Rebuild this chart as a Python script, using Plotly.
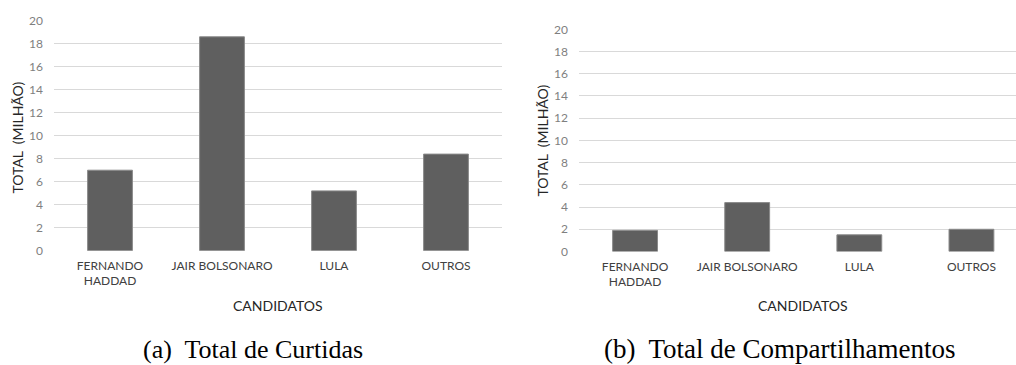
import plotly.graph_objects as go

# Candidate names and totals (millions)
candidatos = ["FERNANDO<br>HADDAD", "JAIR BOLSONARO", "LULA", "OUTROS"]
curtidas = [7.0, 18.6, 5.2, 8.4]
compartilhamentos = [1.9, 4.4, 1.5, 2.0]
y_ticks = [0, 2, 4, 6, 8, 10, 12, 14, 16, 18, 20]

W, H = 1016, 365
SANS = "Lato, Calibri, Arial, sans-serif"
SERIF = "Liberation Serif, Times New Roman, serif"
BAR = "#5f5f5f"
GRID = "#d9d9d9"
TICK_COLOR = "#7f7f7f"
LABEL_COLOR = "#404040"
TITLE_COLOR = "#262626"

fig = go.Figure()

fig.add_trace(go.Bar(x=[0, 1, 2, 3], y=curtidas, width=0.4,
                     marker=dict(color=BAR, line=dict(color="#8a8a8a", width=1)),
                     xaxis="x", yaxis="y", showlegend=False, hoverinfo="skip"))
fig.add_trace(go.Bar(x=[0, 1, 2, 3], y=compartilhamentos, width=0.4,
                     marker=dict(color=BAR, line=dict(color="#8a8a8a", width=1)),
                     xaxis="x2", yaxis="y2", showlegend=False, hoverinfo="skip"))


def px_x(p):
    return p / W


def px_y(p):
    return 1 - p / H


common_x = dict(
    tickmode="array", tickvals=[0, 1, 2, 3], ticktext=candidatos,
    showgrid=False, zeroline=False, showline=False, ticks="",
    tickfont=dict(family=SANS, size=12, color=LABEL_COLOR),
    ticklabelstandoff=6, automargin=False,
)
common_y = dict(
    range=[0, 20], tickmode="array", tickvals=y_ticks,
    showgrid=True, gridcolor=GRID, gridwidth=1,
    zeroline=False, showline=False, ticks="",
    tickfont=dict(family=SANS, size=12, color=TICK_COLOR),
    ticklabelstandoff=10, automargin=False,
)

fig.update_layout(
    width=W, height=H,
    margin=dict(l=0, r=0, t=0, b=0, autoexpand=False),
    paper_bgcolor="white", plot_bgcolor="white",
    xaxis=dict(domain=[px_x(54), px_x(502)], range=[-0.5, 3.5], anchor="y", **common_x),
    yaxis=dict(domain=[px_y(250.7), px_y(20.7)], anchor="x", **common_y),
    xaxis2=dict(domain=[px_x(579), 1.0], range=[-0.5, 3.5 - 11.5 / 112], anchor="y2", **common_x),
    yaxis2=dict(domain=[px_y(251.5), px_y(29.3)], anchor="x2", **common_y),
)

annotations = [
    # axis titles, left panel
    dict(text="CANDIDATOS", x=px_x(278), y=px_y(305.5), xref="paper", yref="paper",
         showarrow=False, font=dict(family=SANS, size=14, color=TITLE_COLOR),
         xanchor="center", yanchor="middle"),
    dict(text="TOTAL\u00a0 (MILHÃO)", x=px_x(17), y=px_y(137.5), xref="paper", yref="paper",
         showarrow=False, textangle=-90, font=dict(family=SANS, size=14, color=TITLE_COLOR),
         xanchor="center", yanchor="middle"),
    # axis titles, right panel
    dict(text="CANDIDATOS", x=px_x(802.5), y=px_y(305.5), xref="paper", yref="paper",
         showarrow=False, font=dict(family=SANS, size=14, color=TITLE_COLOR),
         xanchor="center", yanchor="middle"),
    dict(text="TOTAL\u00a0 (MILHÃO)", x=px_x(541.5), y=px_y(141), xref="paper", yref="paper",
         showarrow=False, textangle=-90, font=dict(family=SANS, size=14, color=TITLE_COLOR),
         xanchor="center", yanchor="middle"),
    # sub-figure captions
    dict(text="(a)\u00a0 Total de Curtidas", x=px_x(252.5), y=px_y(349), xref="paper", yref="paper",
         showarrow=False, font=dict(family=SERIF, size=26, color="black"), borderpad=0,
         xanchor="center", yanchor="middle"),
    dict(text="(b)\u00a0 Total de Compartilhamentos", x=px_x(779.5), y=px_y(349), xref="paper", yref="paper",
         showarrow=False, font=dict(family=SERIF, size=27, color="black"), borderpad=0,
         xanchor="center", yanchor="middle"),
]
fig.update_layout(annotations=annotations)

fig.write_html("out.html")
